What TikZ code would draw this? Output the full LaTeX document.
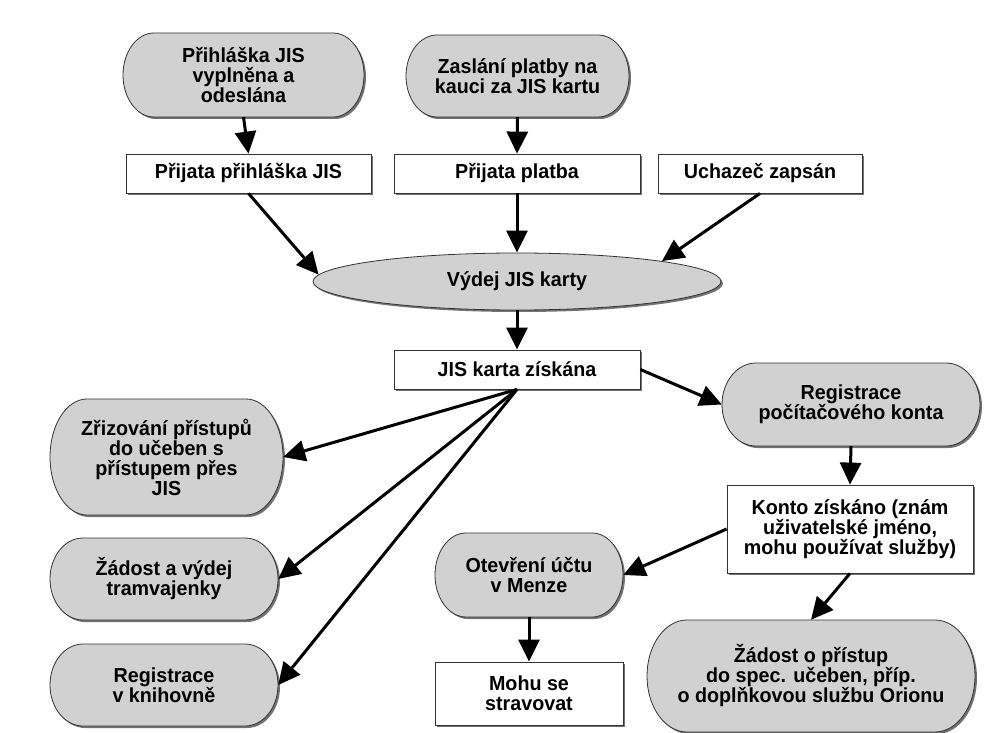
\documentclass[tikz,border=0pt]{standalone}
\usepackage{fontspec}
\setmainfont{Liberation Sans}[FakeStretch=0.97]
\usetikzlibrary{arrows.meta,shapes.geometric,shadows}
\newcommand\txt{\bfseries\fontsize{20.3}{20}\selectfont}
\tikzset{
  shad/.style={drop shadow={shadow xshift=2pt,shadow yshift=-2pt,fill=black!55,opacity=1}},
  termshape/.style={draw=black!80,line width=0.8pt,fill=black!18,shad},
  termtext/.style={inner sep=0pt,align=center,font=\txt},
  box/.style={draw=black!80,line width=0.8pt,fill=white,shad,inner sep=0pt,align=center,font=\txt},
  oval/.style={ellipse,draw=black!80,line width=0.8pt,fill=black!18,shad,inner sep=0pt,align=center,font=\txt},
  arr/.style={line width=3pt,-{Triangle[length=22pt,width=21pt]}},
}
% name, cx, cy, w, h, rx, text
\newcommand\termnode[7]{%
  \draw[termshape] ({#2-#4/2+#6},{#3-#5/2}) -- ({#2+#4/2-#6},{#3-#5/2})
    arc[start angle=-90,end angle=90,x radius=#6,y radius=#5/2]
    -- ({#2-#4/2+#6},{#3+#5/2})
    arc[start angle=90,end angle=270,x radius=#6,y radius=#5/2] -- cycle;
  \node[termtext,minimum width=#4pt,minimum height=#5pt] (#1) at (#2,#3) {#7};
}
\begin{document}
\begin{tikzpicture}[x=1pt,y=-1pt]
\useasboundingbox (0,0) rectangle (1002,733);
% top row
\termnode{n1}{243.5}{75}{241}{84}{31}{Přihláška JIS\\vyplněna a\\odeslána}
\termnode{n2}{517.5}{76}{223}{82}{31}{Zaslání platby na\\kauci za JIS kartu}
\node[box,minimum width=245pt,minimum height=39pt] (b3) at (248.5,173.5) {Přijata přihláška JIS};
\node[box,minimum width=246pt,minimum height=39pt] (b4) at (517,173.5) {Přijata platba};
\node[box,minimum width=204pt,minimum height=39pt] (b5) at (760,173.5) {Uchazeč zapsán};
\node[oval,minimum width=408pt,minimum height=57pt] (e6) at (517,281.5) {Výdej JIS karty};
\node[box,minimum width=246pt,minimum height=39pt] (b7) at (517,369.5) {JIS karta získána};
% right branch
\termnode{n8}{851}{404.5}{258}{83}{34}{Registrace\\počítačového konta}
\node[box,minimum width=246pt,minimum height=88pt] (b9) at (850,529) {Konto získáno (znám\\uživatelské jméno,\\mohu používat služby)};
\termnode{n10}{529}{575}{188}{84}{31}{Otevření účtu\\v Menze}
\node[box,minimum width=188pt,minimum height=63pt] (b11) at (529,693.5) {Mohu se\\stravovat};
\termnode{n12}{811}{676}{328}{112}{40}{Žádost o přístup\\do spec. učeben, příp.\\o doplňkovou službu Orionu}
% left branch
\termnode{n13}{166.5}{457}{233}{116}{37}{Zřizování přístupů\\do učeben s\\přístupem přes\\JIS}
\termnode{n14}{164}{579}{228}{82}{33}{Žádost a výdej\\tramvajenky}
\termnode{n15}{164}{685}{228}{82}{33}{Registrace\\v knihovně}
% connectors
\draw[arr] (n1.south) -- (b3.north);
\draw[arr] (n2.south) -- (b4.north);
\draw[arr] (b3.south) -- (e6.178);
\draw[arr] (b4.south) -- (e6.north);
\draw[arr] (b5.south) -- (e6.8);
\draw[arr] (e6.south) -- (b7.north);
\draw[arr] (b7.east) -- (n8.west);
\draw[arr] (b7.south) -- (n13.east);
\draw[arr] (b7.south) -- (n14.east);
\draw[arr] (b7.south) -- (n15.east);
\draw[arr] (n8.south) -- (b9.north);
\draw[arr] (b9.west) -- (n10.east);
\draw[arr] (b9.south) -- (n12.north);
\draw[arr] (n10.south) -- (b11.north);
\end{tikzpicture}
\end{document}
